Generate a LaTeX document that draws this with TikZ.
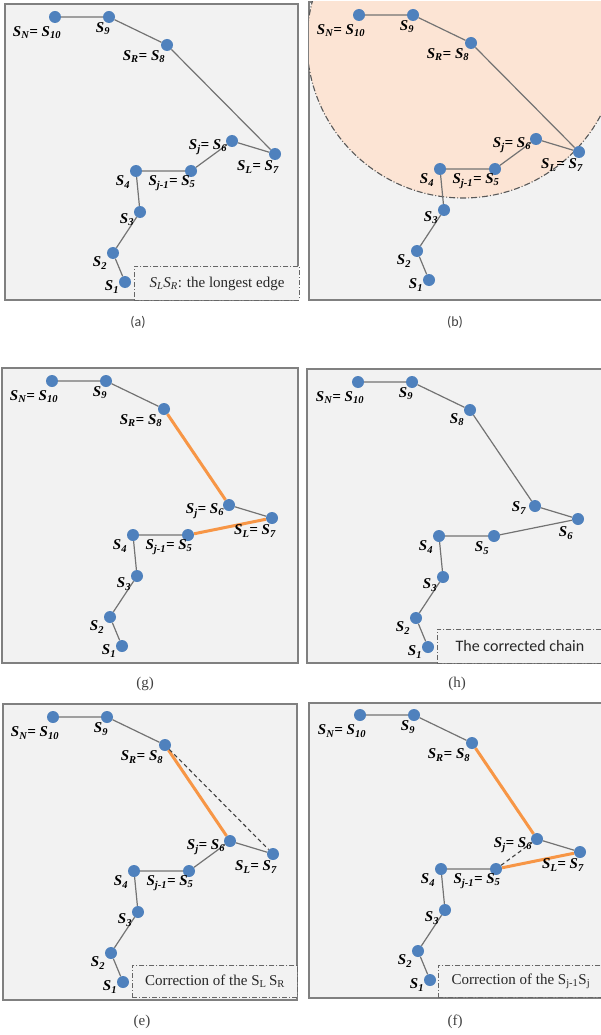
\documentclass[tikz,border=0pt]{standalone}
\usepackage{fontspec}
\setmainfont{Liberation Serif}
\newfontfamily\calfont{Carlito}
\usetikzlibrary{positioning}

\definecolor{chainblue}{RGB}{79,129,189}
\definecolor{fixorange}{RGB}{247,150,70}
\definecolor{panelgray}{RGB}{242,242,242}
\definecolor{reachpeach}{RGB}{252,228,212}

\newcommand{\Ssub}[1]{S\textsubscript{#1}}

\begin{document}
\begin{tikzpicture}[
  x=1pt, y=-1pt,
  panel/.style={draw=black!50, line width=1.3pt, fill=panelgray},
  pt/.style={circle, fill=chainblue, inner sep=0pt, minimum size=12pt},
  link/.style={draw=black!55, line width=1.2pt},
  fixedge/.style={draw=fixorange, line width=3pt},
  oldedge/.style={draw=black!75, line width=1.1pt, dash pattern=on 4pt off 3pt},
  lbl/.style={on grid, inner sep=0pt, text=black,
    font=\bfseries\itshape\fontsize{15}{15}\selectfont},
  note/.style={
    rectangle, draw=black!60, line width=0.9pt,
    dash pattern=on 5pt off 2pt on 1pt off 2pt,
    fill=panelgray, minimum width=165pt, minimum height=32pt,
    anchor=north west, inner sep=2pt, text=black!85,
    font=\fontsize{15}{15}\selectfont
  },
  figcap/.style={text=black!75, font=\fontsize{15}{15}\selectfont}
]
\useasboundingbox (0,0) rectangle (600,1035);

% ─── (a) the longest edge ───────────────────────────────────
\begin{scope}[shift={(0,0)}]
\draw[panel] (5,4) rectangle (298,300);
\node[note, minimum height=34pt] (nta) at (134,266) {\textit{\Ssub{L}\Ssub{R}}: the longest edge};

\node[pt] (a10) at (55,17) {};
\node[pt] (a9)  at (109,17) {};
\node[pt] (a8)  at (167,45) {};
\node[pt] (a7)  at (275,154) {};
\node[pt] (a6)  at (232,141) {};
\node[pt] (a5)  at (191,171) {};
\node[pt] (a4)  at (136,171) {};
\node[pt] (a3)  at (140,212) {};
\node[pt] (a2)  at (113,253) {};
\node[pt] (a1)  at (125,282) {};

\draw[link] (a10) -- (a9) -- (a8) -- (a7) -- (a6) -- (a5) -- (a4) -- (a3) -- (a2) -- (a1);

\node[lbl, below left=16pt and 18pt of a10] (la10) {\Ssub{N}= \Ssub{10}};
\node[lbl, below left=12pt and 6pt of a9]   (la9)  {\Ssub{9}};
\node[lbl, below left=12pt and 23pt of a8]  (la8)  {\Ssub{R}= \Ssub{8}};
\node[lbl, below left=13pt and 17pt of a7]  (la7)  {\Ssub{L}= \Ssub{7}};
\node[lbl, below left=6pt and 24pt of a6]   (la6)  {\Ssub{j}= \Ssub{6}};
\node[lbl, below left=12pt and 19pt of a5]  (la5)  {\Ssub{j-1}= \Ssub{5}};
\node[lbl, below left=11pt and 13pt of a4]  (la4)  {\Ssub{4}};
\node[lbl, below left=8pt and 13pt of a3]   (la3)  {\Ssub{3}};
\node[lbl, below left=10pt and 13pt of a2]  (la2)  {\Ssub{2}};
\node[lbl, below left=5pt and 13pt of a1]   (la1)  {\Ssub{1}};

\node[figcap, font=\calfont\fontsize{14}{14}\selectfont] (capa) at (138,322) {(a)};
\end{scope}

% ─── (b) circle round S_R ───────────────────────────────────
\begin{scope}[shift={(304,-2)}]
\draw[panel] (5,4) rectangle (300,302);
\coordinate (bc) at (159,44);
\begin{scope}
  \clip (5,4) rectangle (300,302);
  \fill[reachpeach] (bc) circle (156);
  \draw[black!65, line width=1.1pt, dash pattern=on 6pt off 2pt on 1pt off 2pt] (bc) circle (156);
\end{scope}

\node[pt] (b10) at (55,17) {};
\node[pt] (b9)  at (109,17) {};
\node[pt] (b8)  at (167,45) {};
\node[pt] (b7)  at (275,154) {};
\node[pt] (b6)  at (232,141) {};
\node[pt] (b5)  at (191,171) {};
\node[pt] (b4)  at (136,171) {};
\node[pt] (b3)  at (140,212) {};
\node[pt] (b2)  at (113,253) {};
\node[pt] (b1)  at (125,282) {};

\draw[link] (b10) -- (b9) -- (b8) -- (b7) -- (b6) -- (b5) -- (b4) -- (b3) -- (b2) -- (b1);

\node[lbl, below left=16pt and 18pt of b10] (lb10) {\Ssub{N}= \Ssub{10}};
\node[lbl, below left=12pt and 6pt of b9]   (lb9)  {\Ssub{9}};
\node[lbl, below left=12pt and 23pt of b8]  (lb8)  {\Ssub{R}= \Ssub{8}};
\node[lbl, below left=13pt and 17pt of b7]  (lb7)  {\Ssub{L}= \Ssub{7}};
\node[lbl, below left=6pt and 24pt of b6]   (lb6)  {\Ssub{j}= \Ssub{6}};
\node[lbl, below left=12pt and 19pt of b5]  (lb5)  {\Ssub{j-1}= \Ssub{5}};
\node[lbl, below left=11pt and 13pt of b4]  (lb4)  {\Ssub{4}};
\node[lbl, below left=8pt and 13pt of b3]   (lb3)  {\Ssub{3}};
\node[lbl, below left=10pt and 13pt of b2]  (lb2)  {\Ssub{2}};
\node[lbl, below left=5pt and 13pt of b1]   (lb1)  {\Ssub{1}};

\node[figcap, font=\calfont\fontsize{14}{14}\selectfont] (capb) at (151,324) {(b)};
\end{scope}

% ─── (g) the two new edges ──────────────────────────────────
\begin{scope}[shift={(-3,364)}]
\draw[panel] (5,4) rectangle (301,299);

\node[pt] (g10) at (55,17) {};
\node[pt] (g9)  at (109,17) {};
\node[pt] (g8)  at (167,45) {};
\node[pt] (g7)  at (275,154) {};
\node[pt] (g6)  at (232,141) {};
\node[pt] (g5)  at (191,171) {};
\node[pt] (g4)  at (136,171) {};
\node[pt] (g3)  at (140,212) {};
\node[pt] (g2)  at (113,253) {};
\node[pt] (g1)  at (125,282) {};

\draw[link] (g10) -- (g9) -- (g8);
\draw[fixedge] (g8) -- (g6);
\draw[link] (g6) -- (g7);
\draw[fixedge] (g7) -- (g5);
\draw[link] (g5) -- (g4) -- (g3) -- (g2) -- (g1);

\node[lbl, below left=16pt and 18pt of g10] (lg10) {\Ssub{N}= \Ssub{10}};
\node[lbl, below left=12pt and 6pt of g9]   (lg9)  {\Ssub{9}};
\node[lbl, below left=12pt and 23pt of g8]  (lg8)  {\Ssub{R}= \Ssub{8}};
\node[lbl, below left=13pt and 17pt of g7]  (lg7)  {\Ssub{L}= \Ssub{7}};
\node[lbl, below left=6pt and 24pt of g6]   (lg6)  {\Ssub{j}= \Ssub{6}};
\node[lbl, below left=12pt and 19pt of g5]  (lg5)  {\Ssub{j-1}= \Ssub{5}};
\node[lbl, below left=11pt and 13pt of g4]  (lg4)  {\Ssub{4}};
\node[lbl, below left=8pt and 13pt of g3]   (lg3)  {\Ssub{3}};
\node[lbl, below left=10pt and 13pt of g2]  (lg2)  {\Ssub{2}};
\node[lbl, below left=5pt and 13pt of g1]   (lg1)  {\Ssub{1}};

\node[figcap] (capg) at (148,320) {(g)};
\end{scope}

% ─── (h) the corrected chain ────────────────────────────────
\begin{scope}[shift={(303,365)}]
\draw[panel] (4,4) rectangle (300,298);
\node[note, minimum height=34pt, font=\calfont\fontsize{16}{16}\selectfont] (nth) at (134,264) {The corrected chain};

\node[pt] (h10) at (55,17) {};
\node[pt] (h9)  at (109,17) {};
\node[pt] (h8)  at (167,45) {};
\node[pt] (h7)  at (232,141) {};
\node[pt] (h6)  at (275,154) {};
\node[pt] (h5)  at (191,171) {};
\node[pt] (h4)  at (136,171) {};
\node[pt] (h3)  at (140,212) {};
\node[pt] (h2)  at (113,253) {};
\node[pt] (h1)  at (125,282) {};

\draw[link] (h10) -- (h9) -- (h8) -- (h7) -- (h6) -- (h5) -- (h4) -- (h3) -- (h2) -- (h1);

\node[lbl, below left=16pt and 18pt of h10] (lh10) {\Ssub{N}= \Ssub{10}};
\node[lbl, below left=12pt and 6pt of h9]   (lh9)  {\Ssub{9}};
\node[lbl, below left=10pt and 13pt of h8]  (lh8)  {\Ssub{8}};
\node[lbl, below left=2pt and 16pt of h7]   (lh7)  {\Ssub{7}};
\node[lbl, below left=14pt and 12pt of h6]  (lh6)  {\Ssub{6}};
\node[lbl, below left=12pt and 12pt of h5]  (lh5)  {\Ssub{5}};
\node[lbl, below left=11pt and 13pt of h4]  (lh4)  {\Ssub{4}};
\node[lbl, below left=8pt and 13pt of h3]   (lh3)  {\Ssub{3}};
\node[lbl, below left=10pt and 13pt of h2]  (lh2)  {\Ssub{2}};
\node[lbl, below left=5pt and 13pt of h1]   (lh1)  {\Ssub{1}};

\node[figcap] (caph) at (154,319) {(h)};
\end{scope}

% ─── (e) correction of S_L S_R ──────────────────────────────
\begin{scope}[shift={(-2,700)}]
\draw[panel] (5,4) rectangle (299,300);
\node[note] (nte) at (134,265) {Correction of the \Ssub{L}\,\Ssub{R}};

\node[pt] (e10) at (55,17) {};
\node[pt] (e9)  at (109,17) {};
\node[pt] (e8)  at (167,45) {};
\node[pt] (e7)  at (275,154) {};
\node[pt] (e6)  at (232,141) {};
\node[pt] (e5)  at (191,171) {};
\node[pt] (e4)  at (136,171) {};
\node[pt] (e3)  at (140,212) {};
\node[pt] (e2)  at (113,253) {};
\node[pt] (e1)  at (125,282) {};

\draw[link] (e10) -- (e9) -- (e8);
\draw[fixedge] (e8) -- (e6);
\draw[oldedge] (e8) -- (e7);
\draw[link] (e7) -- (e6) -- (e5) -- (e4) -- (e3) -- (e2) -- (e1);

\node[lbl, below left=16pt and 18pt of e10] (le10) {\Ssub{N}= \Ssub{10}};
\node[lbl, below left=12pt and 6pt of e9]   (le9)  {\Ssub{9}};
\node[lbl, below left=12pt and 23pt of e8]  (le8)  {\Ssub{R}= \Ssub{8}};
\node[lbl, below left=13pt and 17pt of e7]  (le7)  {\Ssub{L}= \Ssub{7}};
\node[lbl, below left=6pt and 24pt of e6]   (le6)  {\Ssub{j}= \Ssub{6}};
\node[lbl, below left=12pt and 19pt of e5]  (le5)  {\Ssub{j-1}= \Ssub{5}};
\node[lbl, below left=11pt and 13pt of e4]  (le4)  {\Ssub{4}};
\node[lbl, below left=8pt and 13pt of e3]   (le3)  {\Ssub{3}};
\node[lbl, below left=10pt and 13pt of e2]  (le2)  {\Ssub{2}};
\node[lbl, below left=5pt and 13pt of e1]   (le1)  {\Ssub{1}};

\node[figcap] (cape) at (144,322) {(e)};
\end{scope}

% ─── (f) correction of S_j-1 S_j ────────────────────────────
\begin{scope}[shift={(305,698)}]
\draw[panel] (4,5) rectangle (300,300);
\node[note] (ntf) at (133,267) {Correction of the \Ssub{j-1}\Ssub{j}};

\node[pt] (f10) at (55,17) {};
\node[pt] (f9)  at (109,17) {};
\node[pt] (f8)  at (167,45) {};
\node[pt] (f7)  at (275,154) {};
\node[pt] (f6)  at (232,141) {};
\node[pt] (f5)  at (191,171) {};
\node[pt] (f4)  at (136,171) {};
\node[pt] (f3)  at (140,212) {};
\node[pt] (f2)  at (113,253) {};
\node[pt] (f1)  at (125,282) {};

\draw[link] (f10) -- (f9) -- (f8);
\draw[fixedge] (f8) -- (f6);
\draw[link] (f6) -- (f7);
\draw[fixedge] (f7) -- (f5);
\draw[oldedge] (f5) -- (f6);
\draw[link] (f5) -- (f4) -- (f3) -- (f2) -- (f1);

\node[lbl, below left=16pt and 18pt of f10] (lf10) {\Ssub{N}= \Ssub{10}};
\node[lbl, below left=12pt and 6pt of f9]   (lf9)  {\Ssub{9}};
\node[lbl, below left=12pt and 23pt of f8]  (lf8)  {\Ssub{R}= \Ssub{8}};
\node[lbl, below left=13pt and 17pt of f7]  (lf7)  {\Ssub{L}= \Ssub{7}};
\node[lbl, below left=6pt and 24pt of f6]   (lf6)  {\Ssub{j}= \Ssub{6}};
\node[lbl, below left=12pt and 19pt of f5]  (lf5)  {\Ssub{j-1}= \Ssub{5}};
\node[lbl, below left=11pt and 13pt of f4]  (lf4)  {\Ssub{4}};
\node[lbl, below left=8pt and 13pt of f3]   (lf3)  {\Ssub{3}};
\node[lbl, below left=10pt and 13pt of f2]  (lf2)  {\Ssub{2}};
\node[lbl, below left=5pt and 13pt of f1]   (lf1)  {\Ssub{1}};

\node[figcap] (capf) at (150,324) {(f)};
\end{scope}

\end{tikzpicture}
\end{document}
